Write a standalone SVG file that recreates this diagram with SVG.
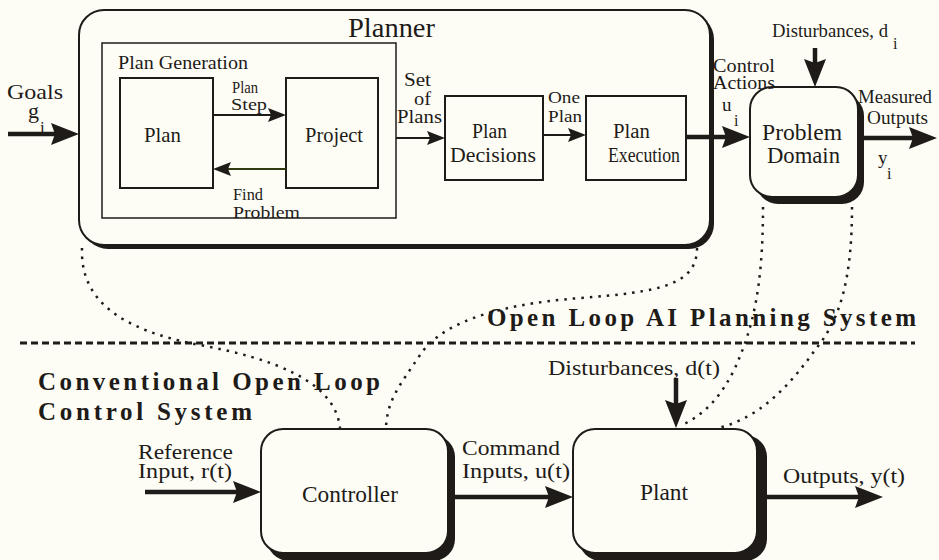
<svg xmlns="http://www.w3.org/2000/svg" width="939" height="560" viewBox="0 0 939 560">
<style>
.t{font-family:"Liberation Serif","Times New Roman",serif;fill:#1e1b18}
.b{font-weight:bold}
.box{fill:#fdfdf6;stroke:#1e1b18;stroke-width:2}
.sq{fill:none;stroke:#1e1b18;stroke-width:2}
.pg{fill:none;stroke:#1e1b18;stroke-width:1.5}
.sh{fill:#1e1b18}
.thick{stroke:#1e1b18;stroke-width:4.5;fill:none;marker-end:url(#ahb)}
.thin{stroke:#1e1b18;stroke-width:2;fill:none;marker-end:url(#ahs)}
.dots{stroke:#1e1b18;stroke-width:2.5;fill:none;stroke-dasharray:2.5 6}
.dash{stroke:#1e1b18;stroke-width:3;fill:none;stroke-dasharray:7 4}
</style>
<defs>
<marker id="ahb" markerUnits="userSpaceOnUse" markerWidth="28" markerHeight="22" refX="20" refY="11" orient="auto"><path d="M0,0 L28,11 L0,22 L4,11 Z" fill="#1e1b18"/></marker>
<marker id="ahs" markerUnits="userSpaceOnUse" markerWidth="18" markerHeight="14" refX="13" refY="7" orient="auto"><path d="M0,0 L18,7 L0,14 L3,7 Z" fill="#1e1b18"/></marker>
</defs>
<rect x="0" y="0" width="939" height="560" fill="#fdfdf6"/>

<g id="planner">
<rect class="sh" x="83" y="14" width="631" height="235" rx="25"/>
<rect class="box" x="79" y="10" width="631" height="235" rx="25"/>
<text class="t" x="348" y="37" font-size="27" textLength="87" lengthAdjust="spacingAndGlyphs">Planner</text>
</g>

<g id="plan-generation">
<rect class="pg" x="102" y="43" width="294" height="175"/>
<text class="t" x="118" y="69" font-size="18" textLength="130" lengthAdjust="spacingAndGlyphs">Plan Generation</text>
</g>

<g id="plan">
<rect class="sq" x="120" y="78" width="93" height="110"/>
<text class="t" x="144" y="142" font-size="21" textLength="37" lengthAdjust="spacingAndGlyphs">Plan</text>
</g>

<g id="project">
<rect class="sq" x="286" y="78" width="92" height="110"/>
<text class="t" x="305" y="142" font-size="21" textLength="58" lengthAdjust="spacingAndGlyphs">Project</text>
</g>

<g id="plan-decisions">
<rect class="sq" x="445" y="96" width="98" height="84"/>
<text class="t" x="472" y="138" font-size="20" textLength="35" lengthAdjust="spacingAndGlyphs">Plan</text>
<text class="t" x="450" y="162" font-size="20" textLength="86" lengthAdjust="spacingAndGlyphs">Decisions</text>
</g>

<g id="plan-execution">
<rect class="sq" x="586" y="96" width="100" height="84"/>
<text class="t" x="613" y="138" font-size="20" textLength="37" lengthAdjust="spacingAndGlyphs">Plan</text>
<text class="t" x="608" y="162" font-size="20" textLength="72" lengthAdjust="spacingAndGlyphs">Execution</text>
</g>

<g id="problem-domain">
<rect class="sh" x="756" y="94" width="108" height="110" rx="22"/>
<rect class="box" x="750" y="87" width="108" height="110" rx="22"/>
<text class="t" x="762" y="140" font-size="23" textLength="80" lengthAdjust="spacingAndGlyphs">Problem</text>
<text class="t" x="767" y="163" font-size="23" textLength="73" lengthAdjust="spacingAndGlyphs">Domain</text>
</g>

<g id="controller">
<rect class="sh" x="267" y="435" width="188" height="126" rx="22"/>
<rect class="box" x="261" y="429" width="187" height="124" rx="22"/>
<text class="t" x="302" y="502" font-size="23" textLength="96" lengthAdjust="spacingAndGlyphs">Controller</text>
</g>

<g id="plant">
<rect class="sh" x="579" y="435" width="188" height="126" rx="22"/>
<rect class="box" x="573" y="429" width="184" height="124" rx="22"/>
<text class="t" x="640" y="500" font-size="23" textLength="48" lengthAdjust="spacingAndGlyphs">Plant</text>
</g>

<g id="connectors">
<path class="thick" d="M8,134 H71"/>
<path class="thick" d="M686,137 H742"/>
<path class="thick" d="M862,138 H929"/>
<path class="thick" d="M815,48 V79"/>
<path class="thick" d="M145,492 H253"/>
<path class="thick" d="M455,497 H565"/>
<path class="thick" d="M767,497 H875"/>
<path class="thick" d="M676,378 V420"/>
<path class="thin" d="M213,115 H281"/>
<path class="thin" d="M286,169 H218" style="stroke:#2f3a12"/>
<path class="thin" d="M396,138 H440"/>
<path class="thin" d="M543,135 H581"/>
<path class="dots" d="M82,248 C80,300 120,330 200,345 C270,358 335,380 340,428"/>
<path class="dots" d="M697,248 C697,285 660,292 580,298 C490,305 440,325 420,355 C400,385 387,400 386,428"/>
<path class="dots" d="M763,207 C763,290 752,330 735,368 C722,395 705,415 680,426"/>
<path class="dots" d="M852,207 C852,280 840,320 815,350 C790,385 760,418 718,428"/>
<path class="dash" d="M20,343 H915"/>
</g>

<g id="labels">
<text class="t" x="232" y="93" font-size="17" textLength="26" lengthAdjust="spacingAndGlyphs">Plan</text>
<text class="t" x="231" y="110" font-size="17" textLength="36" lengthAdjust="spacingAndGlyphs">Step</text>
<text class="t" x="233" y="200" font-size="17" textLength="30" lengthAdjust="spacingAndGlyphs">Find</text>
<text class="t" x="233" y="218" font-size="17" textLength="67" lengthAdjust="spacingAndGlyphs">Problem</text>
<text class="t" x="404" y="86" font-size="18" textLength="27" lengthAdjust="spacingAndGlyphs">Set</text>
<text class="t" x="414" y="105" font-size="18" textLength="17" lengthAdjust="spacingAndGlyphs">of</text>
<text class="t" x="397" y="123" font-size="18" textLength="45" lengthAdjust="spacingAndGlyphs">Plans</text>
<text class="t" x="548" y="103" font-size="17" textLength="32" lengthAdjust="spacingAndGlyphs">One</text>
<text class="t" x="548" y="122" font-size="17" textLength="34" lengthAdjust="spacingAndGlyphs">Plan</text>
<text class="t" x="713" y="72" font-size="18" textLength="62" lengthAdjust="spacingAndGlyphs">Control</text>
<text class="t" x="713" y="89" font-size="18" textLength="62" lengthAdjust="spacingAndGlyphs">Actions</text>
<text class="t" x="722" y="111" font-size="19">u</text>
<text class="t" x="734" y="126" font-size="16">i</text>
<text class="t" x="772" y="37" font-size="18" textLength="116" lengthAdjust="spacingAndGlyphs">Disturbances, d</text>
<text class="t" x="893" y="49" font-size="16">i</text>
<text class="t" x="858" y="103" font-size="18" textLength="74" lengthAdjust="spacingAndGlyphs">Measured</text>
<text class="t" x="867" y="124" font-size="18" textLength="61" lengthAdjust="spacingAndGlyphs">Outputs</text>
<text class="t" x="878" y="164" font-size="19">y</text>
<text class="t" x="887" y="179" font-size="16">i</text>
<text class="t" x="7" y="99" font-size="22" textLength="56" lengthAdjust="spacingAndGlyphs">Goals</text>
<text class="t" x="28" y="118" font-size="22">g</text>
<text class="t" x="40" y="133" font-size="17">i</text>
<text class="t b" x="487" y="326" font-size="25" textLength="429" lengthAdjust="spacing">Open Loop AI Planning System</text>
<text class="t b" x="38" y="390" font-size="25" textLength="342" lengthAdjust="spacing">Conventional Open Loop</text>
<text class="t b" x="38" y="420" font-size="25" textLength="214" lengthAdjust="spacing">Control System</text>
<text class="t" x="138" y="459" font-size="20" textLength="95" lengthAdjust="spacingAndGlyphs">Reference</text>
<text class="t" x="138" y="478" font-size="20" textLength="94" lengthAdjust="spacingAndGlyphs">Input, r(t)</text>
<text class="t" x="462" y="455" font-size="21" textLength="98" lengthAdjust="spacingAndGlyphs">Command</text>
<text class="t" x="462" y="478" font-size="21" textLength="108" lengthAdjust="spacingAndGlyphs">Inputs, u(t)</text>
<text class="t" x="548" y="375" font-size="21" textLength="172" lengthAdjust="spacingAndGlyphs">Disturbances, d(t)</text>
<text class="t" x="783" y="483" font-size="21" textLength="122" lengthAdjust="spacingAndGlyphs">Outputs, y(t)</text>
</g>
</svg>
